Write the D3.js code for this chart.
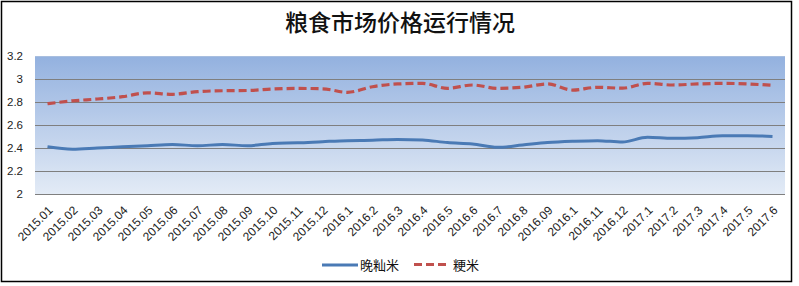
<!DOCTYPE html>
<html><head><meta charset="utf-8">
<script src="https://cdn.jsdelivr.net/npm/d3@7"></script>
<style>body{margin:0;background:#fff}svg{display:block}</style>
</head><body>
<script>
const categories = ["2015.01","2015.02","2015.03","2015.04","2015.05","2015.06","2015.07","2015.08","2015.09","2015.10","2015.11","2015.12","2016.1","2016.2","2016.3","2016.4","2016.5","2016.6","2016.7","2016.8","2016.09","2016.1","2016.11","2016.12","2017.1","2017.2","2017.3","2017.4","2017.5","2017.6"];
const lateIndica = [2.41,2.39,2.40,2.41,2.42,2.43,2.42,2.43,2.42,2.44,2.445,2.455,2.464,2.467,2.475,2.47,2.447,2.435,2.406,2.426,2.447,2.458,2.464,2.452,2.493,2.484,2.49,2.507,2.507,2.50];
const japonica = [2.785,2.81,2.826,2.846,2.88,2.867,2.89,2.898,2.90,2.913,2.918,2.915,2.884,2.933,2.957,2.962,2.919,2.948,2.919,2.928,2.957,2.904,2.928,2.92,2.962,2.948,2.957,2.962,2.957,2.945];
const yTicks = [2,2.2,2.4,2.6,2.8,3,3.2];
const seriesNames = ["晚籼米","粳米"];
const title = "粮食市场价格运行情况";

const W=799,H=286;
const svg=d3.select("body").append("svg").attr("width",W).attr("height",H);
const L=35,R=785,T=56,B=194;
const x=d3.scaleBand().domain(d3.range(categories.length)).range([L,R]);
const y=d3.scaleLinear().domain([2,3.2]).range([B,T]);

const defs=svg.append("defs");
const g=defs.append("linearGradient").attr("id","bg").attr("x1",0).attr("y1",0).attr("x2",0).attr("y2",1);
g.append("stop").attr("offset","0%").attr("stop-color","#93b1df");
g.append("stop").attr("offset","100%").attr("stop-color","#e3ebf6");

svg.append("rect").attr("x",1.5).attr("y",1.5).attr("width",790).attr("height",280).attr("fill","#fff").attr("stroke","#000").attr("stroke-width",1.5);

svg.append("text").attr("x",400).attr("y",31).attr("text-anchor","middle")
  .attr("font-family","'Noto Sans CJK SC'").attr("font-size",23).attr("font-weight",500).attr("fill","#111").text(title);

svg.append("rect").attr("x",L).attr("y",T).attr("width",R-L).attr("height",B-T).attr("fill","url(#bg)");

svg.append("g").selectAll("line").data(yTicks).join("line")
  .attr("x1",L).attr("x2",R).attr("y1",d=>Math.round(y(d))+0.5).attr("y2",d=>Math.round(y(d))+0.5)
  .attr("stroke",d=>d===3.2?"#a8bedf":"#7f7f7f").attr("stroke-width",1);

svg.append("g").selectAll("text").data(yTicks).join("text")
  .attr("x",23).attr("y",d=>y(d)+4).attr("text-anchor","end")
  .attr("font-family","'Liberation Sans',Arial,sans-serif").attr("font-size",11.5).attr("fill","#222")
  .text(d=>d3.format("")(d));

svg.append("g").selectAll("text").data(categories).join("text")
  .attr("transform",(d,i)=>`translate(${x(i)+x.bandwidth()/2+6},${B+17}) rotate(-45)`)
  .attr("text-anchor","end")
  .attr("font-family","'Liberation Sans',Arial,sans-serif").attr("font-size",12).attr("fill","#222")
  .text(d=>d);

const line=d3.line().x((d,i)=>x(i)+x.bandwidth()/2).y(d=>y(d)).curve(d3.curveMonotoneX);
svg.append("path").attr("d",line(lateIndica)).attr("fill","none").attr("stroke","#4a7ab5").attr("stroke-width",3).attr("stroke-linejoin","round");
svg.append("path").attr("d",line(japonica)).attr("fill","none").attr("stroke","#c0504d").attr("stroke-width",3.2).attr("stroke-dasharray","8,4");

const lg=svg.append("g").attr("font-family","'Noto Sans CJK SC'").attr("font-size",13).attr("fill","#111");
lg.append("line").attr("x1",322).attr("x2",358).attr("y1",265).attr("y2",265).attr("stroke","#4a7ab5").attr("stroke-width",3);
lg.append("text").attr("x",360).attr("y",270).text(seriesNames[0]);
lg.append("line").attr("x1",414).attr("x2",448).attr("y1",264.5).attr("y2",264.5).attr("stroke","#c0504d").attr("stroke-width",3.2).attr("stroke-dasharray","8,4");
lg.append("text").attr("x",453).attr("y",270).text(seriesNames[1]);
</script>
</body></html>
